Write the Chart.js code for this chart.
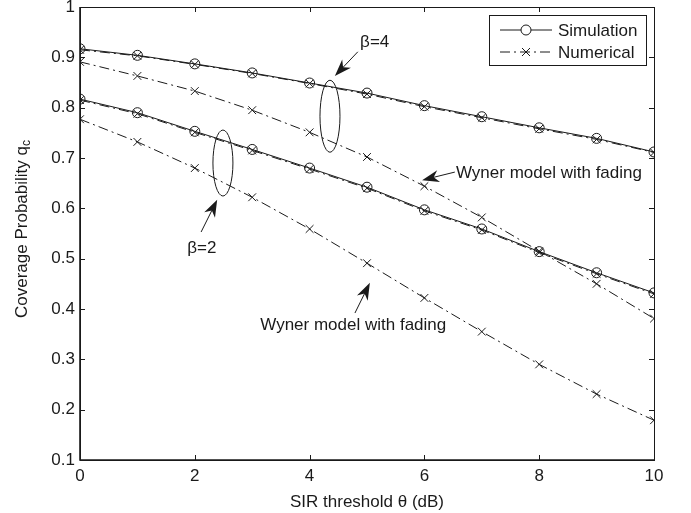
<!DOCTYPE html>
<html>
<head>
<meta charset="utf-8">
<script src="https://cdn.jsdelivr.net/npm/chart.js"></script>
<style>
html, body { margin: 0; padding: 0; background: #fff; }
#wrap { width: 691px; height: 513px; position: relative; }
</style>
</head>
<body>
<div id="wrap"><canvas id="cov"></canvas></div>
<script>
// SIR threshold (dB)
const thetaDb = [0, 1, 2, 3, 4, 5, 6, 7, 8, 9, 10];
// beta = 4
const simBeta4 = [0.917, 0.904, 0.887, 0.869, 0.849, 0.829, 0.804, 0.782, 0.760, 0.739, 0.712];
const numBeta4 = [0.915, 0.903, 0.886, 0.868, 0.848, 0.827, 0.802, 0.780, 0.758, 0.737, 0.711];
const wynerBeta4 = [0.891, 0.863, 0.833, 0.795, 0.751, 0.702, 0.644, 0.582, 0.515, 0.450, 0.381];
// beta = 2
const simBeta2 = [0.817, 0.790, 0.753, 0.717, 0.680, 0.642, 0.597, 0.559, 0.514, 0.472, 0.432];
const numBeta2 = [0.815, 0.788, 0.751, 0.715, 0.678, 0.640, 0.595, 0.557, 0.512, 0.470, 0.430];
const wynerBeta2 = [0.777, 0.732, 0.680, 0.622, 0.559, 0.491, 0.422, 0.355, 0.290, 0.231, 0.179];

const xTicks = [0, 2, 4, 6, 8, 10];
const yTicks = [0.1, 0.2, 0.3, 0.4, 0.5, 0.6, 0.7, 0.8, 0.9, 1];

const FONT = "'Liberation Sans', Arial, Helvetica, sans-serif";
const INK = '#1a1a1a';
const DASHDOT = [10, 4, 2, 4];

function pts(ys) {
    return thetaDb.map((x, i) => ({ x: x, y: ys[i] }));
}

function simSet(ys) {
    return {
        data: pts(ys), borderColor: INK, borderWidth: 1, pointStyle: 'circle',
        pointRadius: 5, pointBorderWidth: 1, pointBackgroundColor: 'rgba(0,0,0,0)',
        pointBorderColor: INK, fill: false, tension: 0
    };
}
function numSet(ys) {
    return {
        data: pts(ys), borderColor: INK, borderWidth: 1, borderDash: DASHDOT,
        pointStyle: 'crossRot', pointRadius: 5.5, pointBorderWidth: 1,
        pointBorderColor: INK, fill: false, tension: 0
    };
}

// arrow with a filled, notched head, in pixel space
function arrow(ctx, x0, y0, x1, y1) {
    const a = Math.atan2(y1 - y0, x1 - x0);
    const len = 17, half = 6;
    ctx.beginPath();
    ctx.moveTo(x0, y0);
    ctx.lineTo(x1 - Math.cos(a) * len * 0.6, y1 - Math.sin(a) * len * 0.6);
    ctx.stroke();
    const bx = x1 - Math.cos(a) * len, by = y1 - Math.sin(a) * len;
    const nx = -Math.sin(a), ny = Math.cos(a);
    ctx.beginPath();
    ctx.moveTo(x1, y1);
    ctx.lineTo(bx + nx * half, by + ny * half);
    ctx.lineTo(x1 - Math.cos(a) * len * 0.7, y1 - Math.sin(a) * len * 0.7);
    ctx.lineTo(bx - nx * half, by - ny * half);
    ctx.closePath();
    ctx.fill();
}

const matlabFrame = {
    id: 'matlabFrame',
    afterDatasetsDraw(chart) {
        const ctx = chart.ctx;
        const a = chart.chartArea;
        const xs = chart.scales.x, ys = chart.scales.y;
        const X = v => xs.getPixelForValue(v);
        const Y = v => ys.getPixelForValue(v);
        ctx.save();
        ctx.strokeStyle = INK;
        ctx.fillStyle = INK;
        ctx.lineWidth = 1;
        ctx.setLineDash([]);

        // box
        ctx.strokeRect(a.left + 0.5, a.top + 0.5, a.right - a.left, a.bottom - a.top);
        ctx.lineWidth = 1.6;
        ctx.beginPath();
        ctx.moveTo(a.left, a.top);
        ctx.lineTo(a.left, a.bottom);
        ctx.lineTo(a.right, a.bottom);
        ctx.stroke();
        ctx.lineWidth = 1;

        // inward ticks on all four sides
        const tl = 5;
        ctx.beginPath();
        xTicks.forEach(v => {
            const px = Math.round(X(v)) + 0.5;
            ctx.moveTo(px, a.bottom); ctx.lineTo(px, a.bottom - tl);
            ctx.moveTo(px, a.top); ctx.lineTo(px, a.top + tl);
        });
        yTicks.forEach(v => {
            const py = Math.round(Y(v)) + 0.5;
            ctx.moveTo(a.left, py); ctx.lineTo(a.left + tl, py);
            ctx.moveTo(a.right, py); ctx.lineTo(a.right - tl, py);
        });
        ctx.stroke();

        // ellipses grouping the curve pairs
        const ell = (cx, cy, rx, ry) => {
            ctx.beginPath();
            ctx.ellipse(X(cx), Y(cy), rx, ry, 0, 0, Math.PI * 2);
            ctx.stroke();
        };
        ell(4.355, 0.783, 10, 36);
        ell(2.49, 0.690, 10, 33);

        // arrows
        arrow(ctx, X(4.84), Y(0.911), X(4.44), Y(0.863));
        arrow(ctx, X(2.11), Y(0.553), X(2.39), Y(0.617));
        arrow(ctx, X(6.53), Y(0.672), X(5.96), Y(0.656));
        arrow(ctx, X(4.79), Y(0.392), X(5.05), Y(0.452));

        // annotation text
        ctx.font = '17px ' + FONT;
        ctx.textBaseline = 'middle';
        ctx.textAlign = 'left';
        ctx.fillText('β=4', X(4.88), Y(0.929));
        ctx.fillText('β=2', X(1.87), Y(0.521));
        ctx.fillText('Wyner model with fading', X(6.55), Y(0.670));
        ctx.fillText('Wyner model with fading', X(3.14), Y(0.368));

        // legend
        const lw = 157, lh = 50;
        const lx = a.right - 8 - lw, ly = a.top + 8;
        ctx.fillStyle = '#fff';
        ctx.fillRect(lx, ly, lw, lh);
        ctx.fillStyle = INK;
        ctx.strokeRect(lx + 0.5, ly + 0.5, lw, lh);
        const rows = [
            { label: 'Simulation', dash: [], mark: 'o', y: ly + 15 },
            { label: 'Numerical', dash: DASHDOT, mark: 'x', y: ly + 37 }
        ];
        rows.forEach(r => {
            ctx.setLineDash(r.dash);
            ctx.beginPath();
            ctx.moveTo(lx + 11, r.y);
            ctx.lineTo(lx + 63, r.y);
            ctx.stroke();
            ctx.setLineDash([]);
            const mx = lx + 37;
            ctx.beginPath();
            if (r.mark === 'o') {
                ctx.fillStyle = '#fff';
                ctx.arc(mx, r.y, 5, 0, Math.PI * 2);
                ctx.fill();
                ctx.stroke();
                ctx.fillStyle = INK;
            } else {
                ctx.moveTo(mx - 4, r.y - 4); ctx.lineTo(mx + 4, r.y + 4);
                ctx.moveTo(mx - 4, r.y + 4); ctx.lineTo(mx + 4, r.y - 4);
                ctx.stroke();
            }
            ctx.fillText(r.label, lx + 69, r.y + 1);
        });

        // y-axis title with subscript
        ctx.save();
        ctx.translate(22, 229);
        ctx.rotate(-Math.PI / 2);
        ctx.textAlign = 'left';
        ctx.font = '17px ' + FONT;
        const main = 'Coverage Probability q';
        const w = ctx.measureText(main).width;
        ctx.font = '12px ' + FONT;
        const ws = ctx.measureText('c').width;
        const start = -(w + ws) / 2;
        ctx.font = '17px ' + FONT;
        ctx.fillText(main, start, 0);
        ctx.font = '12px ' + FONT;
        ctx.fillText('c', start + w, 5);
        ctx.restore();

        // x-axis title
        ctx.font = '17px ' + FONT;
        ctx.textAlign = 'center';
        ctx.fillText('SIR threshold θ (dB)', (a.left + a.right) / 2, 502);

        ctx.restore();
    }
};

new Chart(document.getElementById('cov'), {
    type: 'line',
    data: {
        datasets: [
            simSet(simBeta4), numSet(numBeta4), numSet(wynerBeta4),
            simSet(simBeta2), numSet(numBeta2), numSet(wynerBeta2)
        ]
    },
    options: {
        responsive: true,
        maintainAspectRatio: false,
        animation: false,
        layout: { padding: { top: 7, right: 37, left: 0, bottom: 0 } },
        plugins: { legend: { display: false }, tooltip: { enabled: false } },
        scales: {
            x: {
                type: 'linear', min: 0, max: 10,
                afterFit: s => { s.height = 53; s.paddingLeft = 0; s.paddingRight = 0; },
                afterBuildTicks: s => { s.ticks = xTicks.map(v => ({ value: v })); },
                grid: { display: false, drawTicks: false },
                border: { display: false },
                ticks: { color: INK, font: { family: FONT, size: 17 }, padding: 6, maxRotation: 0 }
            },
            y: {
                type: 'linear', min: 0.1, max: 1,
                afterFit: s => { s.width = 80; s.paddingTop = 0; s.paddingBottom = 0; },
                afterBuildTicks: s => { s.ticks = yTicks.map(v => ({ value: v })); },
                grid: { display: false, drawTicks: false },
                border: { display: false },
                ticks: {
                    color: INK, font: { family: FONT, size: 17 }, padding: 5,
                    callback: v => (Math.round(v * 10) / 10).toString()
                }
            }
        }
    },
    plugins: [matlabFrame]
});
</script>
</body>
</html>
